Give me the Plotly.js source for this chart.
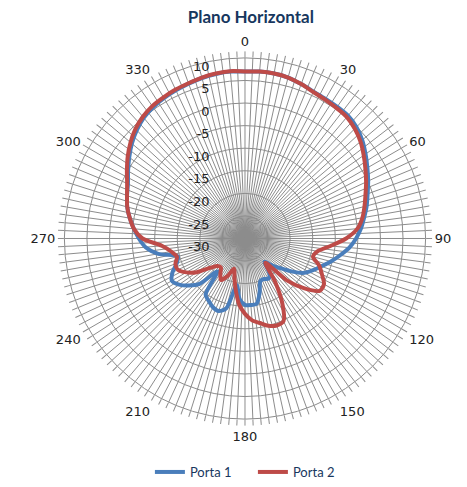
<!DOCTYPE html>
<html>
<head>
<meta charset="utf-8">
<script src="https://cdn.plot.ly/plotly-3.0.1.min.js"></script>
<style>html,body{margin:0;padding:0;background:#fff;}#chart{width:467px;height:487px;}</style>
</head>
<body>
<div id="chart"></div>
<script>
// Angles in degrees (azimuth, clockwise from top)
const angles = [0,5,10,15,20,25,30,35,40,45,50,55,60,65,70,75,80,85,90,95,100,105,110,115,120,125,130,135,140,145,150,155,160,165,170,175,180,185,190,195,200,205,210,215,220,225,230,235,240,245,250,255,260,265,270,275,280,285,290,295,300,305,310,315,320,325,330,335,340,345,350,355];

// Porta 1 (dB)
const porta1 = [7.0,7.1,7.1,6.9,6.4,5.9,5.7,5.6,5.5,4.9,3.9,2.6,1.3,0.1,-1.1,-2.1,-3.2,-4.2,-5.4,-6.8,-8.6,-10.3,-12.0,-13.4,-14.8,-17.2,-19.8,-21.7,-23.3,-20.5,-19.7,-20.1,-20.0,-17.5,-15.3,-15.2,-15.3,-16.5,-19.5,-14.0,-12.9,-13.2,-14.0,-14.8,-20.5,-15.8,-13.8,-12.2,-11.3,-12.3,-13.9,-14.6,-10.5,-7.9,-6.5,-5.3,-4.1,-3.0,-2.2,-1.4,-0.1,1.3,2.7,3.9,4.9,5.5,5.9,6.2,6.5,6.8,7.0,7.1];

// Porta 2 (dB)
const porta2 = [7.0,7.1,7.1,6.9,6.4,5.8,5.5,5.3,5.1,4.4,3.4,2.1,0.8,-0.4,-1.6,-2.6,-3.6,-5.0,-7.6,-11.0,-13.7,-14.4,-12.5,-11.2,-9.8,-9.8,-12.8,-16.9,-23.0,-18.5,-13.5,-9.8,-9.5,-10.0,-11.0,-11.8,-13.3,-15.3,-18.3,-21.0,-22.9,-20.8,-19.4,-20.5,-21.7,-21.4,-19.9,-17.0,-15.0,-13.6,-13.6,-14.4,-13.4,-11.5,-7.3,-5.3,-4.1,-3.0,-2.2,-1.2,0.2,1.7,3.1,4.3,5.2,5.8,6.1,6.4,6.6,6.9,7.1,7.2];

// Radial tick values and labels
const radialTicks = [-30,-25,-20,-15,-10,-5,0,5,10];
const radialLabels = ['-30','-25','-20','-15','-10','-5','0','5','10'];

// Angular grid / labels
const gridAngles = [];
const gridLabels = [];
for (let a = 0; a < 360; a += 2.5) {
  gridAngles.push(a);
  gridLabels.push(a % 30 === 0 ? String(a) : '');
}

// Right-align the radial labels to the left of the vertical axis, just below each ring
const NB = '\u00A0', FIG = '\u2007';
function padLabel(s) {
  let p = s;
  const digits = s.replace('-', '').length;
  if (digits < 2) p = FIG + p;
  if (s.indexOf('-') < 0) p = '\u2008' + p;
  return '<br>' + p + NB.repeat(8);
}
const radialText = radialLabels.map(padLabel);

const closeLoop = arr => arr.concat([arr[0]]);

const traces = [
  {
    type: 'scatterpolar', mode: 'lines', name: 'Porta 1',
    theta: closeLoop(angles), r: closeLoop(porta1),
    line: {color: '#4A7EBB', width: 4, shape: 'spline', smoothing: 0.8}
  },
  {
    type: 'scatterpolar', mode: 'lines', name: 'Porta 2',
    theta: closeLoop(angles), r: closeLoop(porta2),
    line: {color: '#BE4B48', width: 4, shape: 'spline', smoothing: 0.8}
  }
];

const layout = {
  width: 467, height: 487,
  margin: {l: 0, r: 0, t: 0, b: 0},
  paper_bgcolor: '#fff',
  title: {
    text: '<b>Plano Horizontal</b>',
    x: 0.537, xref: 'paper', xanchor: 'center',
    y: 0.965, yref: 'paper', yanchor: 'middle',
    font: {family: 'Lato, Open Sans, sans-serif', size: 17, color: '#17375E'}
  },
  showlegend: true,
  legend: {
    orientation: 'h', x: 0.321, xanchor: 'left', y: 0.012, yanchor: 'middle',
    entrywidth: 58, entrywidthmode: 'pixels',
    font: {family: 'Lato, Open Sans, sans-serif', size: 13, color: '#17375E'},
    bgcolor: 'rgba(0,0,0,0)'
  },
  polar: {
    domain: {x: [0.1306, 0.9186], y: [0.1232, 0.8789]},
    bgcolor: '#fff',
    angularaxis: {
      direction: 'clockwise', rotation: 90,
      tickmode: 'array', tickvals: gridAngles, ticktext: gridLabels,
      showgrid: true, gridcolor: '#8c8c8c', gridwidth: 1,
      showline: true, linecolor: '#8c8c8c', linewidth: 1,
      ticks: 'outside', ticklen: 6, tickcolor: '#8c8c8c', tickwidth: 1,
      tickfont: {family: 'DejaVu Sans, sans-serif', size: 13, color: '#222'}
    },
    radialaxis: {
      range: [-30, 10], tickmode: 'array', tickvals: radialTicks, ticktext: radialText,
      angle: 90, tickangle: 90, side: 'counterclockwise',
      showline: false, ticks: '',
      showgrid: true, gridcolor: '#8c8c8c', gridwidth: 1,
      tickfont: {family: 'DejaVu Sans, sans-serif', size: 13, color: '#222'}
    }
  }
};

Plotly.newPlot('chart', traces, layout, {displayModeBar: false, staticPlot: true});
</script>
</body>
</html>
